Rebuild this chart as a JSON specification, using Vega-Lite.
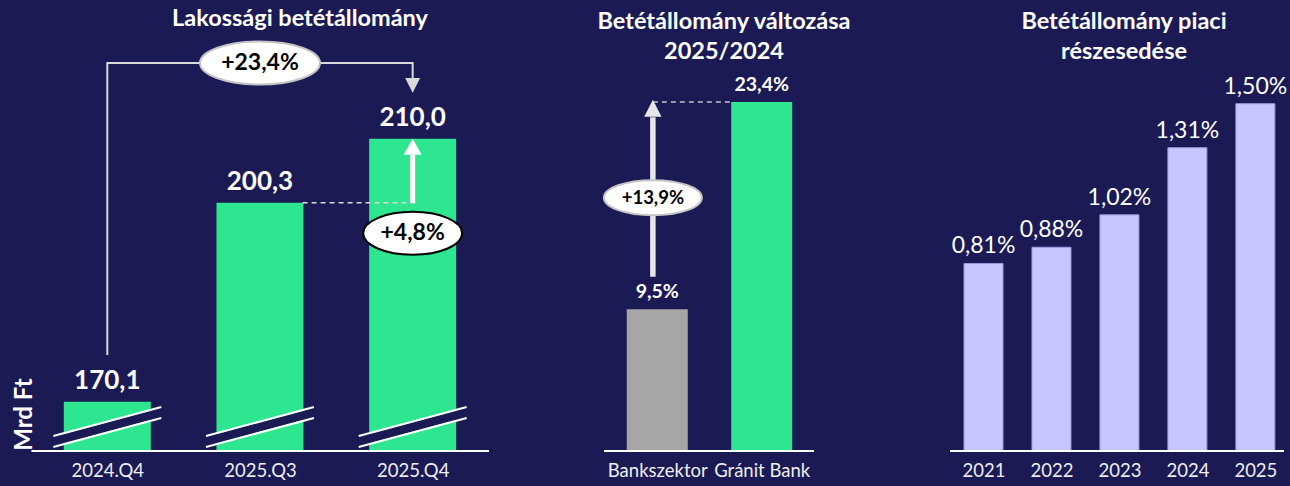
{
  "$schema": "https://vega.github.io/schema/vega-lite/v6.json",
  "background": "#1b1a55",
  "padding": {"left": 0, "top": 0, "right": 0, "bottom": 8},
  "bounds": "flush",
  "spacing": 105,
  "config": {
    "font": "Lato",
    "view": {"stroke": null},
    "locale": {"number": {"decimal": ",", "thousands": " ", "grouping": [3], "currency": ["", ""]}},
    "title": {"color": "#ffffff", "fontSize": 23.5, "fontWeight": "bold", "font": "Lato", "anchor": "middle", "frame": "group", "baseline": "alphabetic", "lineHeight": 30},
    "axis": {"labelFont": "Lato", "labelFontSize": 18.5, "labelColor": "#eeeeee", "ticks": false, "tickSize": 0, "domain": false, "grid": false, "labelPadding": 10, "labelAngle": 0}
  },
  "hconcat": [
    {
      "width": 494,
      "height": 451,
      "title": {"text": "Lakossági betétállomány", "dx": 53, "offset": -30},
      "data": {"values": [
        {"q": "2024.Q4", "i": 0, "v": 170.1},
        {"q": "2025.Q3", "i": 1, "v": 200.3},
        {"q": "2025.Q4", "i": 2, "v": 210.0}
      ]},
      "layer": [
        {
          "mark": {"type": "bar", "width": 87, "color": "#2ee68f"},
          "encoding": {
            "x": {"field": "i", "type": "quantitative", "scale": {"domain": [-0.67, 2.5], "nice": false, "zero": false},
                  "axis": {"values": [0, 1, 2], "labelExpr": "['2024.Q4','2025.Q3','2025.Q4'][datum.value]", "title": null}},
            "y": {"field": "v", "type": "quantitative", "scale": {"domain": [162.62, 231.06], "nice": false, "zero": false}, "axis": null},
            "y2": {"datum": 162.62}
          }
        },
        {
          "mark": {"type": "rule", "color": "#1b1a55", "strokeWidth": 9, "xOffset": -54, "x2Offset": 54},
          "encoding": {
            "x": {"field": "i", "type": "quantitative", "axis": {"title": null}},
            "x2": {"field": "i"},
            "y": {"datum": 164.062, "axis": null},
            "y2": {"datum": 168.463}
          }
        },
        {
          "mark": {"type": "rule", "color": "#ffffff", "strokeWidth": 2, "xOffset": -54, "x2Offset": 54},
          "encoding": {
            "x": {"field": "i", "type": "quantitative", "axis": {"title": null}},
            "x2": {"field": "i"},
            "y": {"datum": 164.896, "axis": null},
            "y2": {"datum": 169.297}
          }
        },
        {
          "mark": {"type": "rule", "color": "#ffffff", "strokeWidth": 2, "xOffset": -54, "x2Offset": 54},
          "encoding": {
            "x": {"field": "i", "type": "quantitative", "axis": {"title": null}},
            "x2": {"field": "i"},
            "y": {"datum": 163.227, "axis": null},
            "y2": {"datum": 167.628}
          }
        },
        {
          "mark": {"type": "text", "dy": -13, "fontSize": 26, "fontWeight": "bold", "color": "#ffffff", "baseline": "alphabetic", "align": "center"},
          "encoding": {
            "x": {"field": "i", "type": "quantitative", "axis": {"title": null}},
            "y": {"field": "v", "type": "quantitative", "axis": null},
            "text": {"field": "v", "type": "quantitative", "format": ".1f"}
          }
        },
        {
          "data": {"values": [{"x0": -0.497, "x1": 2.5, "y": 162.62}]},
          "mark": {"type": "rule", "color": "#ffffff", "strokeWidth": 2},
          "encoding": {
            "x": {"field": "x0", "type": "quantitative", "axis": {"title": null}},
            "x2": {"field": "x1"},
            "y": {"field": "y", "type": "quantitative", "axis": null}
          }
        },
        {
          "data": {"values": [
            {"x": 0, "y": 177.2, "o": 1},
            {"x": 0, "y": 221.5, "o": 2},
            {"x": 2, "y": 221.5, "o": 3},
            {"x": 2, "y": 219.2, "o": 4}
          ]},
          "mark": {"type": "line", "color": "#d9d9d9", "strokeWidth": 2},
          "encoding": {
            "x": {"field": "x", "type": "quantitative", "axis": {"title": null}},
            "y": {"field": "y", "type": "quantitative", "axis": null},
            "order": {"field": "o", "type": "quantitative"}
          }
        },
        {
          "data": {"values": [{"x": 2, "y": 216.99}]},
          "mark": {"type": "point", "shape": "M0,0L-1,-1.96L1,-1.96Z", "filled": true, "size": 225, "fill": "#d9d9d9", "strokeWidth": 0, "opacity": 1},
          "encoding": {
            "x": {"field": "x", "type": "quantitative", "axis": {"title": null}},
            "y": {"field": "y", "type": "quantitative", "axis": null}
          }
        },
        {
          "data": {"values": [{"x": 1.279, "x1": 2.036, "y": 200.3}]},
          "mark": {"type": "rule", "color": "#d9d9d9", "strokeWidth": 1.5, "strokeDash": [5, 4]},
          "encoding": {
            "x": {"field": "x", "type": "quantitative", "axis": {"title": null}},
            "x2": {"field": "x1"},
            "y": {"field": "y", "type": "quantitative", "axis": null}
          }
        },
        {
          "data": {"values": [{"x": 2, "y0": 200.3, "y1": 207.54}]},
          "mark": {"type": "rule", "color": "#ffffff", "strokeWidth": 5},
          "encoding": {
            "x": {"field": "x", "type": "quantitative", "axis": {"title": null}},
            "y": {"field": "y0", "type": "quantitative", "axis": null},
            "y2": {"field": "y1"}
          }
        },
        {
          "data": {"values": [{"x": 2, "y": 210.0}]},
          "mark": {"type": "point", "shape": "M0,0L-1,1.78L1,1.78Z", "filled": true, "size": 324, "fill": "#ffffff", "strokeWidth": 0, "opacity": 1},
          "encoding": {
            "x": {"field": "x", "type": "quantitative", "axis": {"title": null}},
            "y": {"field": "y", "type": "quantitative", "axis": null}
          }
        },
        {
          "data": {"values": [{"x": 1, "y": 221.5, "label": "+23,4%"}]},
          "mark": {"type": "point", "shape": "M1,0C1,0.198 0.552,0.358 0,0.358C-0.552,0.358 -1,0.198 -1,0C-1,-0.198 -0.552,-0.358 0,-0.358C0.552,-0.358 1,-0.198 1,0Z", "filled": true, "size": 14400, "fill": "#ffffff", "stroke": "#c4c4c4", "strokeWidth": 2, "opacity": 1},
          "encoding": {
            "x": {"field": "x", "type": "quantitative", "axis": {"title": null}},
            "y": {"field": "y", "type": "quantitative", "axis": null}
          }
        },
        {
          "data": {"values": [{"x": 1, "y": 221.5, "label": "+23,4%"}]},
          "mark": {"type": "text", "fontSize": 23, "fontWeight": "bold", "color": "#000000", "baseline": "middle", "align": "center"},
          "encoding": {
            "x": {"field": "x", "type": "quantitative", "axis": {"title": null}},
            "y": {"field": "y", "type": "quantitative", "axis": null},
            "text": {"field": "label"}
          }
        },
        {
          "data": {"values": [{"x": 2, "y": 195.66, "label": "+4,8%"}]},
          "mark": {"type": "point", "shape": "M1,0C1,0.24 0.552,0.434 0,0.434C-0.552,0.434 -1,0.24 -1,0C-1,-0.24 -0.552,-0.434 0,-0.434C0.552,-0.434 1,-0.24 1,0Z", "filled": true, "size": 9801, "fill": "#ffffff", "stroke": "#000000", "strokeWidth": 2, "opacity": 1},
          "encoding": {
            "x": {"field": "x", "type": "quantitative", "axis": {"title": null}},
            "y": {"field": "y", "type": "quantitative", "axis": null}
          }
        },
        {
          "data": {"values": [{"x": 2, "y": 195.66, "label": "+4,8%"}]},
          "mark": {"type": "text", "fontSize": 23, "fontWeight": "bold", "color": "#000000", "baseline": "middle", "align": "center"},
          "encoding": {
            "x": {"field": "x", "type": "quantitative", "axis": {"title": null}},
            "y": {"field": "y", "type": "quantitative", "axis": null},
            "text": {"field": "label"}
          }
        },
        {
          "data": {"values": [{"x": -0.5417, "y": 168.16, "label": "Mrd Ft"}]},
          "mark": {"type": "text", "fontSize": 24, "fontWeight": "bold", "color": "#ffffff", "angle": 270, "baseline": "middle", "align": "center"},
          "encoding": {
            "x": {"field": "x", "type": "quantitative", "axis": {"title": null}},
            "y": {"field": "y", "type": "quantitative", "axis": null},
            "text": {"field": "label"}
          }
        }
      ]
    },
    {
      "width": 241,
      "height": 451,
      "title": {"text": ["Betétállomány változása", "2025/2024"], "dx": 4.5, "offset": -63},
      "data": {"values": [
        {"k": "Bankszektor", "i": 0, "v": 0.095},
        {"k": "Gránit Bank", "i": 1, "v": 0.234}
      ]},
      "layer": [
        {
          "mark": {"type": "bar", "width": 61},
          "encoding": {
            "x": {"field": "i", "type": "quantitative", "scale": {"domain": [-0.51, 1.702], "nice": false, "zero": false},
                  "axis": {"values": [0, 1], "labelExpr": "['Bankszektor','Gránit Bank'][datum.value]", "title": null}},
            "y": {"field": "v", "type": "quantitative", "scale": {"domain": [0, 0.3023], "nice": false}, "axis": null},
            "color": {"field": "k", "type": "nominal", "scale": {"domain": ["Bankszektor", "Gránit Bank"], "range": ["#a6a6a6", "#2ee68f"]}, "legend": null}
          }
        },
        {
          "mark": {"type": "text", "dy": -11, "fontSize": 19.5, "fontWeight": "bold", "color": "#ffffff", "baseline": "alphabetic", "align": "center"},
          "encoding": {
            "x": {"field": "i", "type": "quantitative", "axis": {"title": null}},
            "y": {"field": "v", "type": "quantitative", "axis": null},
            "text": {"field": "v", "type": "quantitative", "format": ".1%"}
          }
        },
        {
          "data": {"values": [{"x0": -0.51, "x1": 1.5, "y": 0}]},
          "mark": {"type": "rule", "color": "#ffffff", "strokeWidth": 2},
          "encoding": {
            "x": {"field": "x0", "type": "quantitative", "axis": {"title": null}},
            "x2": {"field": "x1"},
            "y": {"field": "y", "type": "quantitative", "axis": null}
          }
        },
        {
          "data": {"values": [{"x": -0.042, "x1": 0.72, "y": 0.234}]},
          "mark": {"type": "rule", "color": "#c4c4c4", "strokeWidth": 1.5, "strokeDash": [5, 4]},
          "encoding": {
            "x": {"field": "x", "type": "quantitative", "axis": {"title": null}},
            "x2": {"field": "x1"},
            "y": {"field": "y", "type": "quantitative", "axis": null}
          }
        },
        {
          "data": {"values": [{"x": -0.042, "y0": 0.1168, "y1": 0.2237}]},
          "mark": {"type": "rule", "color": "#e6e6e6", "strokeWidth": 5.5},
          "encoding": {
            "x": {"field": "x", "type": "quantitative", "axis": {"title": null}},
            "y": {"field": "y0", "type": "quantitative", "axis": null},
            "y2": {"field": "y1"}
          }
        },
        {
          "data": {"values": [{"x": -0.042, "y": 0.2355}]},
          "mark": {"type": "point", "shape": "M0,0L-1,1.96L1,1.96Z", "filled": true, "size": 300, "fill": "#e6e6e6", "strokeWidth": 0, "opacity": 1},
          "encoding": {
            "x": {"field": "x", "type": "quantitative", "axis": {"title": null}},
            "y": {"field": "y", "type": "quantitative", "axis": null}
          }
        },
        {
          "data": {"values": [{"x": -0.042, "y": 0.1698, "label": "+13,9%"}]},
          "mark": {"type": "point", "shape": "M1,0C1,0.198 0.552,0.358 0,0.358C-0.552,0.358 -1,0.198 -1,0C-1,-0.198 -0.552,-0.358 0,-0.358C0.552,-0.358 1,-0.198 1,0Z", "filled": true, "size": 9604, "fill": "#ffffff", "stroke": "#c4c4c4", "strokeWidth": 2, "opacity": 1},
          "encoding": {
            "x": {"field": "x", "type": "quantitative", "axis": {"title": null}},
            "y": {"field": "y", "type": "quantitative", "axis": null}
          }
        },
        {
          "data": {"values": [{"x": -0.042, "y": 0.1698, "label": "+13,9%"}]},
          "mark": {"type": "text", "fontSize": 18.5, "fontWeight": "bold", "color": "#000000", "baseline": "middle", "align": "center"},
          "encoding": {
            "x": {"field": "x", "type": "quantitative", "axis": {"title": null}},
            "y": {"field": "y", "type": "quantitative", "axis": null},
            "text": {"field": "label"}
          }
        }
      ]
    },
    {
      "width": 345,
      "height": 451,
      "title": {"text": ["Betétállomány piaci", "részesedése"], "dx": 6.5, "offset": -63},
      "data": {"values": [
        {"year": 2021, "v": 0.0081},
        {"year": 2022, "v": 0.0088},
        {"year": 2023, "v": 0.0102},
        {"year": 2024, "v": 0.0131},
        {"year": 2025, "v": 0.015}
      ]},
      "layer": [
        {
          "mark": {"type": "bar", "width": 39, "fill": "#c9c6ff", "stroke": "#9d99e0", "strokeWidth": 1},
          "encoding": {
            "x": {"field": "year", "type": "quantitative", "scale": {"domain": [2020.507, 2025.436], "nice": false, "zero": false},
                  "axis": {"values": [2021, 2022, 2023, 2024, 2025], "format": "d", "title": null}},
            "y": {"field": "v", "type": "quantitative", "scale": {"domain": [0, 0.01948], "nice": false}, "axis": null}
          }
        },
        {
          "data": {"values": [{"x0": 2020.507, "x1": 2025.42, "y": 0}]},
          "mark": {"type": "rule", "color": "#ffffff", "strokeWidth": 2},
          "encoding": {
            "x": {"field": "x0", "type": "quantitative", "axis": {"title": null}},
            "x2": {"field": "x1"},
            "y": {"field": "y", "type": "quantitative", "axis": null}
          }
        },
        {
          "mark": {"type": "text", "dy": -10, "fontSize": 23, "color": "#ffffff", "baseline": "alphabetic", "align": "center", "clip": true},
          "encoding": {
            "x": {"field": "year", "type": "quantitative", "axis": {"title": null}},
            "y": {"field": "v", "type": "quantitative", "axis": null},
            "text": {"field": "v", "type": "quantitative", "format": ".2%"}
          }
        }
      ]
    }
  ]
}
